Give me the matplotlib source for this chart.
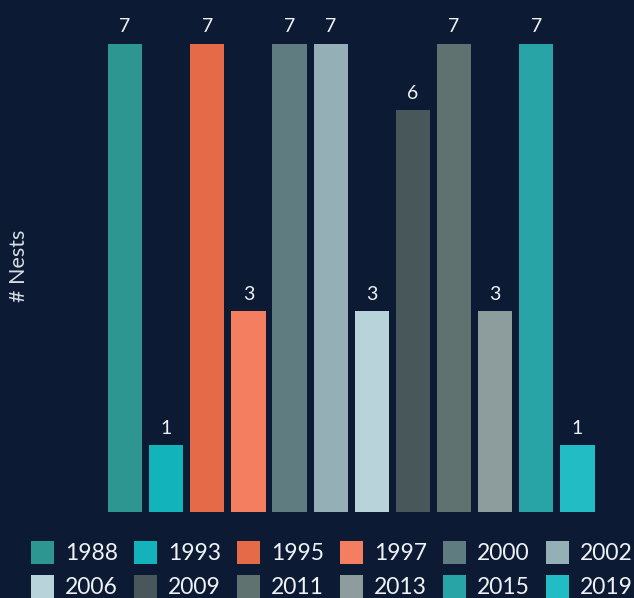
import matplotlib.pyplot as plt
from matplotlib.patches import Patch

years = ['1988', '1993', '1995', '1997', '2000', '2002',
         '2006', '2009', '2011', '2013', '2015', '2019']
nests = [7, 1, 7, 3, 7, 7, 3, 6, 7, 3, 7, 1]
colors = ['#2e9690', '#13b3bb', '#e56a48', '#f47e60', '#5f7d80', '#94afb5',
          '#b8d3da', '#48585a', '#5f7270', '#8d9c9d', '#28a4a6', '#22bdc4']

bg = '#0c1b33'
plt.rcParams['font.family'] = ['Lato', 'DejaVu Sans']

fig = plt.figure(figsize=(6.34, 5.98), dpi=100, facecolor=bg)
ax = fig.add_axes([104.5 / 634, 1 - 512 / 598, 493.5 / 634, 512 / 598])
ax.set_facecolor(bg)

x = list(range(len(years)))
bars = ax.bar(x, nests, width=0.83, color=colors)
for xi, v in zip(x, nests):
    ax.text(xi, v + 0.12, str(v), ha='center', va='bottom',
            color='#eef2f5', fontsize=14)

ax.set_xlim(-0.5, len(years) - 0.5)
ax.set_ylim(0, 7.65)
ax.axis('off')

fig.text(19 / 634, 1 - 266 / 598, '# Nests', rotation=90, ha='center',
         va='center', color='#d5dce2', fontsize=15.5)

# legend fills by column, so reorder to get the years row by row
ncol = 6
order = [r * ncol + c for c in range(ncol) for r in range(2)]
handles = [Patch(facecolor=colors[i], edgecolor='none') for i in order]
labels = [years[i] for i in order]
leg = fig.legend(handles, labels, ncol=ncol, loc='upper left',
                 bbox_to_anchor=(31 / 634, 1 - 541 / 598), frameon=False,
                 fontsize=16.5, handlelength=1.0, handleheight=1.2,
                 handletextpad=0.5, columnspacing=0.68, labelspacing=0.45,
                 borderpad=0, borderaxespad=0)
for t in leg.get_texts():
    t.set_color('#eef2f5')

fig.savefig('out.png', dpi=100, facecolor=bg)
